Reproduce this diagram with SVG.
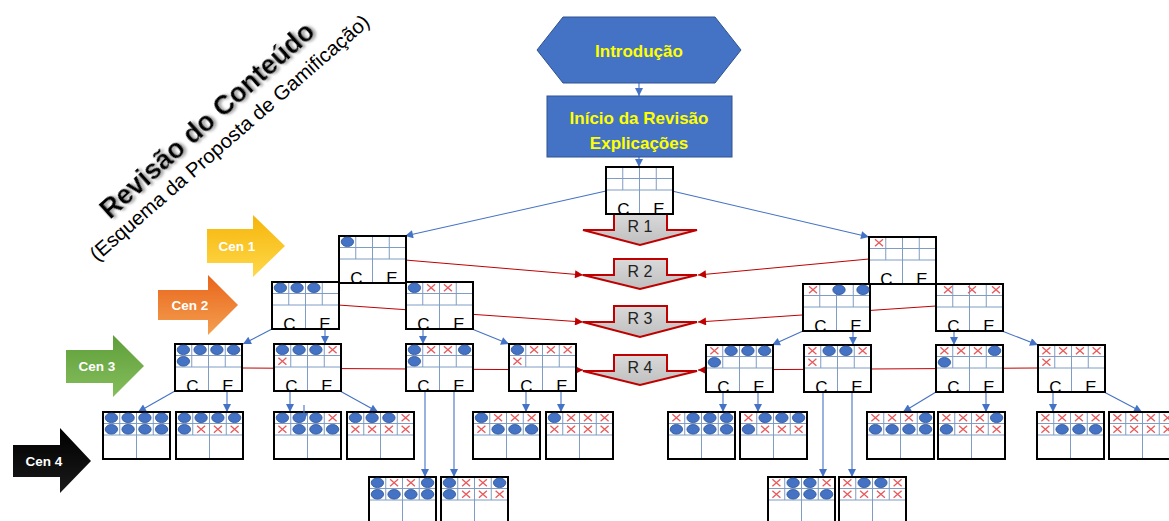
<svg xmlns="http://www.w3.org/2000/svg" width="1169" height="521" viewBox="0 0 1169 521">
<style>
.grid{stroke:#7F9DC4;stroke-width:1;fill:none}
.lbl{font-family:"Liberation Sans",Arial,sans-serif;font-size:17px;fill:#000;text-anchor:middle}
.conn{stroke:#4472C4;stroke-width:1.1;fill:none;marker-end:url(#ab)}
.red{stroke:#C00000;stroke-width:1;fill:none;marker-end:url(#ar)}
.rarrow{fill:url(#gg);stroke:#C00000;stroke-width:2;stroke-linejoin:miter}
.rtxt{font-family:"Liberation Sans",Arial,sans-serif;font-size:16px;text-anchor:middle;fill:#222}
.cen{font-family:"Liberation Sans",Arial,sans-serif;font-weight:bold;font-size:13.5px;fill:#fff;text-anchor:middle}
.hdr{font-family:"Liberation Sans",Arial,sans-serif;font-weight:bold;font-size:17px;fill:#FFFF00;text-anchor:middle}
.blue{fill:#4472C4;stroke:#2F528F;stroke-width:1}
</style>
<defs>
<marker id="ab" viewBox="0 0 10 10" refX="10" refY="5" markerWidth="9" markerHeight="8" markerUnits="userSpaceOnUse" orient="auto"><path d="M0,0L10,5L0,10z" fill="#4472C4"/></marker>
<marker id="ar" viewBox="0 0 10 10" refX="10" refY="5" markerWidth="9" markerHeight="8" markerUnits="userSpaceOnUse" orient="auto"><path d="M0,0L10,5L0,10z" fill="#C00000"/></marker>
<linearGradient id="gg" x1="0" y1="0" x2="0" y2="1"><stop offset="0" stop-color="#D9D9D9"/><stop offset="1" stop-color="#BFBFBF"/></linearGradient>
<linearGradient id="gy" x1="0" y1="0" x2="0" y2="1"><stop offset="0" stop-color="#F5B50A"/><stop offset="1" stop-color="#FFD84A"/></linearGradient>
<linearGradient id="go" x1="0" y1="0" x2="0" y2="1"><stop offset="0" stop-color="#E8641B"/><stop offset="1" stop-color="#F4A050"/></linearGradient>
<linearGradient id="gn" x1="0" y1="0" x2="0" y2="1"><stop offset="0" stop-color="#5E9E3A"/><stop offset="1" stop-color="#85BE5C"/></linearGradient>
<linearGradient id="gk" x1="0" y1="0" x2="0" y2="1"><stop offset="0" stop-color="#000"/><stop offset="1" stop-color="#1A1A1A"/></linearGradient>
<filter id="sh" x="-10%" y="-10%" width="130%" height="130%"><feDropShadow dx="2" dy="2" stdDeviation="1.5" flood-color="#808080" flood-opacity="0.8"/></filter>
<g id="fr">
<rect width="67" height="47" fill="#fff"/>
<path class="grid" d="M0,11.5H67M0,23H67M16.75,0V23M50.25,0V23M33.5,0V47"/>
<rect width="67" height="47" fill="none" stroke="#000" stroke-width="2"/>
</g>
<ellipse id="o" cx="0" cy="0" rx="6.2" ry="4.8" fill="#4472C4" stroke="#2F528F" stroke-width="0.8"/>
<path id="x" d="M-4,-3.5L4,3.5M-4,3.5L4,-3.5" stroke="#E8585A" stroke-width="1.3" fill="none"/>
</defs>

<!-- title -->
<g id="title">
<text transform="translate(110,220) rotate(-42)" font-family="Liberation Sans, Arial, sans-serif" font-weight="bold" font-size="27" textLength="278" lengthAdjust="spacingAndGlyphs" fill="#000" filter="url(#sh)">Revisão do Conteúdo</text>
<text transform="translate(97,262) rotate(-41)" font-family="Liberation Sans, Arial, sans-serif" font-size="20" textLength="363" lengthAdjust="spacingAndGlyphs" fill="#000">(Esquema da Proposta de Gamificação)</text>
</g>

<!-- Cen arrows -->
<g id="cen1"><polygon points="207,229 253,229 253,215 285,246 253,277 253,263 207,263" fill="url(#gy)"/><text class="cen" x="237" y="251">Cen 1</text></g>
<g id="cen2"><polygon points="158,290 208,290 208,275 238,305 208,335 208,320 158,320" fill="url(#go)"/><text class="cen" x="190" y="310">Cen 2</text></g>
<g id="cen3"><polygon points="66,350 113,350 113,335 144,366 113,397 113,383 66,383" fill="url(#gn)"/><text class="cen" x="97" y="371">Cen 3</text></g>
<g id="cen4"><polygon points="13,445 60,445 60,428 91,461 60,493 60,477 13,477" fill="url(#gk)"/><text class="cen" x="44" y="466">Cen 4</text></g>

<!-- connectors -->
<g id="connectors">
<path class="red" d="M405,260L583,275"/>
<path class="red" d="M869,259L698,275"/>
<path class="red" d="M338,305L583,322"/>
<path class="red" d="M936,306L698,322"/>
<path class="red" d="M242,368L583,370"/>
<path class="red" d="M1038,368L698,370"/>
<path class="conn" d="M639,83V96"/>
<path class="conn" d="M639,157V167"/>
<path class="conn" d="M606,191L405,236"/>
<path class="conn" d="M672,191L869,237"/>
<path class="conn" d="M272,329L243,344"/>
<path class="conn" d="M325,329V344"/>
<path class="conn" d="M423,329V344"/>
<path class="conn" d="M472,329L509,344"/>
<path class="conn" d="M175,391L138,412"/>
<path class="conn" d="M227,391V412"/>
<path class="conn" d="M290,391V412"/>
<path class="conn" d="M340,391L378,412"/>
<path class="conn" d="M425,391V477"/>
<path class="conn" d="M454,391V477"/>
<path class="conn" d="M526,391V412"/>
<path class="conn" d="M561,391V412"/>
<path class="conn" d="M803,331L772,345"/>
<path class="conn" d="M853,331V345"/>
<path class="conn" d="M954,331V345"/>
<path class="conn" d="M1002,331L1038,345"/>
<path class="conn" d="M723,392V412"/>
<path class="conn" d="M758,392V412"/>
<path class="conn" d="M823,392V477"/>
<path class="conn" d="M852,392V477"/>
<path class="conn" d="M936,392L903,412"/>
<path class="conn" d="M986,392V412"/>
<path class="conn" d="M1053,392V412"/>
<path class="conn" d="M1104,392L1142,412"/>
</g>

<!-- R arrows -->
<g id="r1"><polygon class="rarrow" points="614,214 667,214 667,230 697,230 640,245 583,230 614,230"/><text class="rtxt" x="640" y="232">R 1</text></g>
<g id="r2"><polygon class="rarrow" points="614,259 667,259 667,275 697,275 640,289 583,275 614,275"/><text class="rtxt" x="640" y="277">R 2</text></g>
<g id="r3"><polygon class="rarrow" points="614,306 667,306 667,322 697,322 640,337 583,322 614,322"/><text class="rtxt" x="640" y="324">R 3</text></g>
<g id="r4"><polygon class="rarrow" points="614,355 667,355 667,371 697,371 640,385 583,371 614,371"/><text class="rtxt" x="640" y="373">R 4</text></g>

<!-- header nodes -->
<g id="intro"><polygon class="blue" points="537,50 563,17 715,17 741,50 715,83 563,83"/><text class="hdr" x="639" y="57">Introdução</text></g>
<g id="inicio"><rect class="blue" x="547" y="96" width="185" height="61"/><text class="hdr" x="639" y="124">Início da Revisão</text><text class="hdr" x="639" y="149">Explicações</text></g>

<!-- root card -->
<g id="root"><use href="#fr" x="606" y="167"/><text class="lbl" x="623.5" y="214.5">C</text><text class="lbl" x="659" y="214.5">E</text></g>

<!-- level 1 -->
<g id="l1-left"><use href="#fr" x="339" y="236"/><use href="#o" x="347.4" y="241.8"/><text class="lbl" x="356.5" y="283.5">C</text><text class="lbl" x="392" y="283.5">E</text></g>
<g id="l1-right"><use href="#fr" x="869" y="237"/><use href="#x" x="879" y="242.8"/><text class="lbl" x="886.5" y="284.5">C</text><text class="lbl" x="922" y="284.5">E</text></g>

<!-- level 2 -->
<g id="l2-la"><use href="#fr" x="272" y="282"/><use href="#o" x="280.4" y="287.8"/><use href="#o" x="297.1" y="287.8"/><use href="#o" x="313.9" y="287.8"/><text class="lbl" x="289.5" y="329.5">C</text><text class="lbl" x="325" y="329.5">E</text></g>
<g id="l2-lb"><use href="#fr" x="406" y="282"/><use href="#o" x="414.4" y="287.8"/><use href="#x" x="431.1" y="287.8"/><use href="#x" x="447.9" y="287.8"/><text class="lbl" x="423.5" y="329.5">C</text><text class="lbl" x="459" y="329.5">E</text></g>
<g id="l2-ra"><use href="#fr" x="803" y="284"/><use href="#x" x="813" y="289.8"/><use href="#o" x="839" y="289.8"/><use href="#o" x="863" y="289.8"/><text class="lbl" x="820.5" y="331.5">C</text><text class="lbl" x="856" y="331.5">E</text></g>
<g id="l2-rb"><use href="#fr" x="936" y="284"/><use href="#x" x="948" y="289.8"/><use href="#x" x="972" y="289.8"/><use href="#x" x="996" y="289.8"/><text class="lbl" x="953.5" y="331.5">C</text><text class="lbl" x="989" y="331.5">E</text></g>

<!-- level 3 -->
<g id="l3-l1"><use href="#fr" x="175" y="344"/><use href="#o" x="183.4" y="349.8"/><use href="#o" x="200.1" y="349.8"/><use href="#o" x="216.9" y="349.8"/><use href="#o" x="233.6" y="349.8"/><use href="#o" x="183.4" y="361.3"/><text class="lbl" x="192.5" y="391.5">C</text><text class="lbl" x="228" y="391.5">E</text></g>
<g id="l3-l2"><use href="#fr" x="274" y="344"/><use href="#o" x="282.4" y="349.8"/><use href="#o" x="299.1" y="349.8"/><use href="#o" x="315.9" y="349.8"/><use href="#x" x="332.6" y="349.8"/><use href="#x" x="282.4" y="361.3"/><text class="lbl" x="291.5" y="391.5">C</text><text class="lbl" x="327" y="391.5">E</text></g>
<g id="l3-l3"><use href="#fr" x="406" y="344"/><use href="#o" x="414.4" y="349.8"/><use href="#x" x="431.1" y="349.8"/><use href="#x" x="447.9" y="349.8"/><use href="#o" x="464.6" y="349.8"/><use href="#o" x="414.4" y="361.3"/><text class="lbl" x="423.5" y="391.5">C</text><text class="lbl" x="459" y="391.5">E</text></g>
<g id="l3-l4"><use href="#fr" x="509" y="344"/><use href="#o" x="517.4" y="349.8"/><use href="#x" x="534.1" y="349.8"/><use href="#x" x="550.9" y="349.8"/><use href="#x" x="567.6" y="349.8"/><use href="#x" x="517.4" y="361.3"/><text class="lbl" x="526.5" y="391.5">C</text><text class="lbl" x="562" y="391.5">E</text></g>
<g id="l3-r1"><use href="#fr" x="706" y="345"/><use href="#x" x="714.4" y="350.8"/><use href="#o" x="731.1" y="350.8"/><use href="#o" x="747.9" y="350.8"/><use href="#o" x="764.6" y="350.8"/><use href="#o" x="714.4" y="362.3"/><text class="lbl" x="723.5" y="392.5">C</text><text class="lbl" x="759" y="392.5">E</text></g>
<g id="l3-r2"><use href="#fr" x="804" y="345"/><use href="#x" x="812.4" y="350.8"/><use href="#o" x="829.1" y="350.8"/><use href="#o" x="845.9" y="350.8"/><use href="#x" x="862.6" y="350.8"/><use href="#x" x="812.4" y="362.3"/><text class="lbl" x="821.5" y="392.5">C</text><text class="lbl" x="857" y="392.5">E</text></g>
<g id="l3-r3"><use href="#fr" x="936" y="345"/><use href="#x" x="944.4" y="350.8"/><use href="#x" x="961.1" y="350.8"/><use href="#x" x="977.9" y="350.8"/><use href="#o" x="994.6" y="350.8"/><use href="#o" x="944.4" y="362.3"/><text class="lbl" x="953.5" y="392.5">C</text><text class="lbl" x="989" y="392.5">E</text></g>
<g id="l3-r4"><use href="#fr" x="1038" y="345"/><use href="#x" x="1046.4" y="350.8"/><use href="#x" x="1063.1" y="350.8"/><use href="#x" x="1079.9" y="350.8"/><use href="#x" x="1096.6" y="350.8"/><use href="#x" x="1046.4" y="362.3"/><text class="lbl" x="1055.5" y="392.5">C</text><text class="lbl" x="1091" y="392.5">E</text></g>

<!-- level 4 left -->
<g id="l4-la"><use href="#fr" x="103" y="412"/><use href="#o" x="111.4" y="417.8"/><use href="#o" x="128.1" y="417.8"/><use href="#o" x="144.9" y="417.8"/><use href="#o" x="161.6" y="417.8"/><use href="#o" x="111.4" y="429.3"/><use href="#o" x="128.1" y="429.3"/><use href="#o" x="144.9" y="429.3"/><use href="#o" x="161.6" y="429.3"/></g>
<g id="l4-lb"><use href="#fr" x="176" y="412"/><use href="#o" x="184.4" y="417.8"/><use href="#o" x="201.1" y="417.8"/><use href="#o" x="217.9" y="417.8"/><use href="#o" x="234.6" y="417.8"/><use href="#o" x="184.4" y="429.3"/><use href="#x" x="201.1" y="429.3"/><use href="#x" x="217.9" y="429.3"/><use href="#x" x="234.6" y="429.3"/></g>
<g id="l4-lc"><use href="#fr" x="274" y="412"/><use href="#o" x="282.4" y="417.8"/><use href="#o" x="299.1" y="417.8"/><use href="#o" x="315.9" y="417.8"/><use href="#x" x="332.6" y="417.8"/><use href="#x" x="282.4" y="429.3"/><use href="#o" x="299.1" y="429.3"/><use href="#o" x="315.9" y="429.3"/><use href="#o" x="332.6" y="429.3"/><path d="M304,405V421" stroke="#4472C4" stroke-width="1.1" marker-end="url(#ab)"/></g>
<g id="l4-ld"><use href="#fr" x="347" y="412"/><use href="#o" x="355.4" y="417.8"/><use href="#o" x="372.1" y="417.8"/><use href="#o" x="388.9" y="417.8"/><use href="#x" x="405.6" y="417.8"/><use href="#x" x="355.4" y="429.3"/><use href="#x" x="372.1" y="429.3"/><use href="#x" x="388.9" y="429.3"/><use href="#x" x="405.6" y="429.3"/></g>
<g id="l4-le"><use href="#fr" x="473" y="412"/><use href="#o" x="481.4" y="417.8"/><use href="#x" x="498.1" y="417.8"/><use href="#x" x="514.9" y="417.8"/><use href="#x" x="531.6" y="417.8"/><use href="#x" x="481.4" y="429.3"/><use href="#o" x="498.1" y="429.3"/><use href="#o" x="514.9" y="429.3"/><use href="#o" x="531.6" y="429.3"/></g>
<g id="l4-lf"><use href="#fr" x="546" y="412"/><use href="#o" x="554.4" y="417.8"/><use href="#x" x="571.1" y="417.8"/><use href="#x" x="587.9" y="417.8"/><use href="#x" x="604.6" y="417.8"/><use href="#x" x="554.4" y="429.3"/><use href="#x" x="571.1" y="429.3"/><use href="#x" x="587.9" y="429.3"/><use href="#x" x="604.6" y="429.3"/></g>

<!-- level 4 right -->
<g id="l4-ra"><use href="#fr" x="668" y="412"/><use href="#x" x="676.4" y="417.8"/><use href="#o" x="693.1" y="417.8"/><use href="#o" x="709.9" y="417.8"/><use href="#o" x="726.6" y="417.8"/><use href="#o" x="676.4" y="429.3"/><use href="#o" x="693.1" y="429.3"/><use href="#o" x="709.9" y="429.3"/><use href="#o" x="726.6" y="429.3"/></g>
<g id="l4-rb"><use href="#fr" x="740" y="412"/><use href="#x" x="748.4" y="417.8"/><use href="#o" x="765.1" y="417.8"/><use href="#o" x="781.9" y="417.8"/><use href="#o" x="798.6" y="417.8"/><use href="#o" x="748.4" y="429.3"/><use href="#x" x="765.1" y="429.3"/><use href="#x" x="781.9" y="429.3"/><use href="#x" x="798.6" y="429.3"/></g>
<g id="l4-rc"><use href="#fr" x="867" y="412"/><use href="#x" x="875.4" y="417.8"/><use href="#x" x="892.1" y="417.8"/><use href="#x" x="908.9" y="417.8"/><use href="#o" x="925.6" y="417.8"/><use href="#o" x="875.4" y="429.3"/><use href="#o" x="892.1" y="429.3"/><use href="#o" x="908.9" y="429.3"/><use href="#o" x="925.6" y="429.3"/></g>
<g id="l4-rd"><use href="#fr" x="938" y="412"/><use href="#x" x="946.4" y="417.8"/><use href="#x" x="963.1" y="417.8"/><use href="#x" x="979.9" y="417.8"/><use href="#o" x="996.6" y="417.8"/><use href="#o" x="946.4" y="429.3"/><use href="#x" x="963.1" y="429.3"/><use href="#x" x="979.9" y="429.3"/><use href="#x" x="996.6" y="429.3"/></g>
<g id="l4-re"><use href="#fr" x="1037" y="412"/><use href="#x" x="1045.4" y="417.8"/><use href="#x" x="1062.1" y="417.8"/><use href="#x" x="1078.9" y="417.8"/><use href="#x" x="1095.6" y="417.8"/><use href="#x" x="1045.4" y="429.3"/><use href="#o" x="1062.1" y="429.3"/><use href="#o" x="1078.9" y="429.3"/><use href="#o" x="1095.6" y="429.3"/></g>
<g id="l4-rf"><use href="#fr" x="1109" y="412"/><use href="#x" x="1117.4" y="417.8"/><use href="#x" x="1134.1" y="417.8"/><use href="#x" x="1150.9" y="417.8"/><use href="#x" x="1167.6" y="417.8"/><use href="#x" x="1117.4" y="429.3"/><use href="#x" x="1134.1" y="429.3"/><use href="#x" x="1150.9" y="429.3"/><use href="#x" x="1167.6" y="429.3"/></g>

<!-- bottom -->
<g id="b-la"><use href="#fr" x="369" y="477"/><use href="#o" x="377.4" y="482.8"/><use href="#x" x="394.1" y="482.8"/><use href="#x" x="410.9" y="482.8"/><use href="#o" x="427.6" y="482.8"/><use href="#o" x="377.4" y="494.3"/><use href="#o" x="394.1" y="494.3"/><use href="#o" x="410.9" y="494.3"/><use href="#o" x="427.6" y="494.3"/></g>
<g id="b-lb"><use href="#fr" x="441" y="477"/><use href="#o" x="449.4" y="482.8"/><use href="#x" x="466.1" y="482.8"/><use href="#x" x="482.9" y="482.8"/><use href="#o" x="499.6" y="482.8"/><use href="#o" x="449.4" y="494.3"/><use href="#x" x="466.1" y="494.3"/><use href="#x" x="482.9" y="494.3"/><use href="#x" x="499.6" y="494.3"/></g>
<g id="b-ra"><use href="#fr" x="768" y="477"/><use href="#x" x="776.4" y="482.8"/><use href="#o" x="793.1" y="482.8"/><use href="#o" x="809.9" y="482.8"/><use href="#x" x="826.6" y="482.8"/><use href="#x" x="776.4" y="494.3"/><use href="#o" x="793.1" y="494.3"/><use href="#o" x="809.9" y="494.3"/><use href="#o" x="826.6" y="494.3"/></g>
<g id="b-rb"><use href="#fr" x="839" y="477"/><use href="#x" x="847.4" y="482.8"/><use href="#o" x="864.1" y="482.8"/><use href="#o" x="880.9" y="482.8"/><use href="#x" x="897.6" y="482.8"/><use href="#x" x="847.4" y="494.3"/><use href="#x" x="864.1" y="494.3"/><use href="#x" x="880.9" y="494.3"/><use href="#x" x="897.6" y="494.3"/></g>
</svg>
